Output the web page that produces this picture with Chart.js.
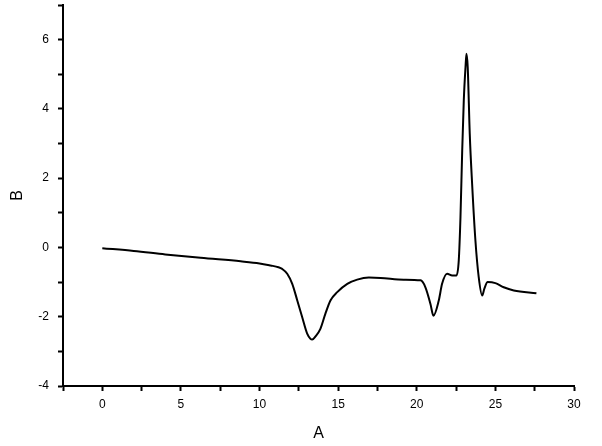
<!DOCTYPE html>
<html>
<head>
<meta charset="utf-8">
<script src="https://cdn.jsdelivr.net/npm/chart.js@4.4.0/dist/chart.umd.min.js"></script>
<style>
  html, body { margin: 0; padding: 0; background: #fff; }
  #wrap { width: 602px; height: 446px; }
</style>
</head>
<body>
<div id="wrap"><canvas id="grafica" width="602" height="446"></canvas></div>
<script>
// valores
var xs = [0, 2, 4, 6.25, 8.8, 10, 10.7, 11.2, 11.44, 11.76, 12.08, 12.4, 12.71, 13.03, 13.24, 13.35, 13.56, 13.87, 14.19, 14.51, 14.94, 15.58, 16.21, 16.95, 17.7, 19.17, 20.24, 20.55, 20.87, 21.06, 21.4, 21.61, 21.93, 22.25, 22.52, 22.67, 22.78, 22.89, 22.99, 23.1, 23.16, 23.24, 23.37, 23.52, 23.73, 23.94, 24.16, 24.3, 24.51, 25.0, 25.53, 26.17, 27.61];
var ys = [-0.02, -0.1, -0.2, -0.3, -0.4, -0.46, -0.52, -0.57, -0.62, -0.76, -1.05, -1.53, -2.01, -2.49, -2.64, -2.66, -2.57, -2.35, -1.91, -1.53, -1.29, -1.05, -0.93, -0.87, -0.88, -0.93, -0.95, -1.15, -1.63, -1.97, -1.53, -1.05, -0.76, -0.81, -0.81, -0.38, 0.88, 2.80, 4.24, 5.21, 5.59, 5.21, 3.28, 1.84, 0.2, -0.86, -1.39, -1.19, -1.0, -1.03, -1.15, -1.24, -1.32];

var xLabels = [0, 5, 10, 15, 20, 25, 30];
var yLabels = [-4, -2, 0, 2, 4, 6];

var puntos = xs.map(function (x, i) { return { x: x, y: ys[i] }; });

var ctx = document.getElementById('grafica').getContext('2d');
var fuente = 'Arial, "Liberation Sans", sans-serif';

var myChart = new Chart(ctx, {
  type: 'scatter',
  data: {
    datasets: [{
      data: puntos,
      showLine: true,
      borderColor: '#000',
      borderWidth: 2,
      pointRadius: 0,
      cubicInterpolationMode: 'monotone'
    }]
  },
  options: {
    responsive: false,
    animation: false,
    layout: { padding: { top: 5, right: 28, left: 0, bottom: 0 } },
    plugins: { legend: { display: false }, tooltip: { enabled: false } },
    scales: {
      x: {
        type: 'linear',
        min: -2.5,
        max: 30,
        afterFit: function (s) { s.height = 60; s.paddingLeft = 0; s.paddingRight = 0; },
        border: { color: '#000', width: 2 },
        grid: { drawOnChartArea: false, color: '#000', tickLength: 5, tickWidth: 2 },
        ticks: {
          stepSize: 2.5,
          padding: 6,
          color: '#000',
          maxRotation: 0,
          autoSkip: false,
          font: { family: fuente, size: 12 },
          callback: function (v) { return xLabels.indexOf(v) >= 0 ? String(v) : ''; }
        },
        title: {
          display: true,
          text: 'A',
          color: '#000',
          padding: { top: 0, bottom: 3 },
          font: { family: fuente, size: 16 }
        }
      },
      y: {
        min: -4,
        max: 7,
        afterFit: function (s) { s.width = 63; s.paddingTop = 0; s.paddingBottom = 0; },
        border: { color: '#000', width: 2 },
        grid: { drawOnChartArea: false, color: '#000', tickLength: 5, tickWidth: 2 },
        ticks: {
          stepSize: 1,
          padding: 9,
          color: '#000',
          autoSkip: false,
          font: { family: fuente, size: 12 },
          callback: function (v) { return yLabels.indexOf(v) >= 0 ? String(v) : ''; }
        },
        title: {
          display: true,
          text: 'B',
          color: '#000',
          padding: { top: 8, bottom: 0 },
          font: { family: fuente, size: 16 }
        }
      }
    }
  }
});
</script>
</body>
</html>
